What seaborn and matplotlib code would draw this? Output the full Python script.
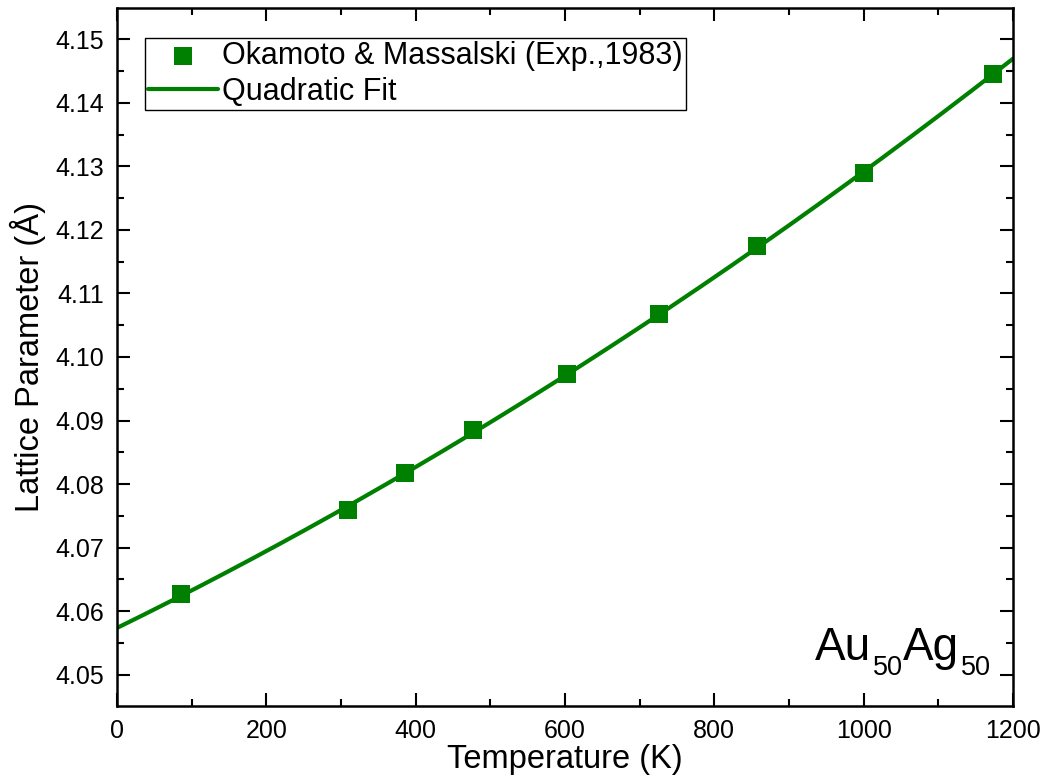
import numpy as np
import pandas as pd
import matplotlib
matplotlib.use("Agg")
import matplotlib.pyplot as plt
from matplotlib.ticker import MultipleLocator, FormatStrFormatter
import seaborn as sns

# Data
temperature_K = [86, 310, 386, 477, 603, 726, 857, 1000, 1173]
lattice_A = [4.0627, 4.0759, 4.0817, 4.0885, 4.0973, 4.1067, 4.1174, 4.1289, 4.1445]
exp_label = "Okamoto & Massalski (Exp.,1983)"
fit_label = "Quadratic Fit"

sns.set_theme(style="ticks")
plt.rcParams['font.family'] = ['Liberation Sans', 'DejaVu Sans']
for k in ['text.color', 'axes.labelcolor', 'xtick.color', 'ytick.color', 'axes.edgecolor']:
    plt.rcParams[k] = 'black'

green = "#008000"

df = pd.DataFrame({"T": temperature_K, "a": lattice_A})
coef = np.polyfit(df["T"], df["a"], 2)
t_fit = np.linspace(0, 1200, 300)
fit_df = pd.DataFrame({"T": t_fit, "a": np.polyval(coef, t_fit)})

fig = plt.figure(figsize=(10.49, 7.82), dpi=100)
ax = fig.add_axes([117/1049, 1-706/782, (1013-117)/1049, (706-8)/782])

sns.lineplot(data=fit_df, x="T", y="a", ax=ax, color=green, linewidth=3.0,
             label=fit_label, zorder=2)
sns.scatterplot(data=df, x="T", y="a", ax=ax, color=green, marker="s", s=13**2,
                edgecolor=green, linewidth=0, label=exp_label, zorder=3)

ax.set_xlim(0, 1200)
ax.set_ylim(4.0451, 4.1549)
ax.xaxis.set_major_locator(MultipleLocator(200))
ax.xaxis.set_minor_locator(MultipleLocator(100))
ax.yaxis.set_major_locator(MultipleLocator(0.01))
ax.yaxis.set_minor_locator(MultipleLocator(0.005))
ax.yaxis.set_major_formatter(FormatStrFormatter("%.2f"))

ax.tick_params(which="both", direction="in", top=True, right=True, width=1.5,
               colors="black", labelsize=18)
ax.tick_params(which="major", length=9.4, pad=9)
ax.tick_params(which="minor", length=5)
for sp in ax.spines.values():
    sp.set_linewidth(1.8)
    sp.set_color("black")

ax.set_xlabel("Temperature (K)", fontsize=23.5, labelpad=1)
ax.set_ylabel("Lattice Parameter (Å)", fontsize=23.5, labelpad=7)

handles, labels = ax.get_legend_handles_labels()
order = [labels.index(exp_label), labels.index(fit_label)]
leg = ax.legend([handles[i] for i in order], [labels[i] for i in order],
                loc="upper left", bbox_to_anchor=(145/1049, 1-38/782),
                bbox_transform=fig.transFigure, fontsize=22, frameon=True,
                fancybox=False, edgecolor="black", framealpha=1,
                handlelength=2.3, handletextpad=0.12, borderpad=0.1,
                labelspacing=0.18, borderaxespad=0)
leg.get_frame().set_linewidth(1.0)

# Composition label Au50Ag50 with real subscripts
base_y = 0.066
t1 = ax.text(0.779, base_y, "Au", transform=ax.transAxes, ha="left",
             va="baseline", fontsize=33)
t2 = ax.annotate("50", xy=(1, base_y), xycoords=(t1, ax.transAxes),
                 xytext=(1, -10.8), textcoords="offset points",
                 ha="left", va="baseline", fontsize=19.5)
t3 = ax.annotate("Ag", xy=(1, base_y), xycoords=(t2, ax.transAxes),
                 xytext=(0.5, 0), textcoords="offset points",
                 ha="left", va="baseline", fontsize=33)
t4 = ax.annotate("50", xy=(1, base_y), xycoords=(t3, ax.transAxes),
                 xytext=(1, -10.8), textcoords="offset points",
                 ha="left", va="baseline", fontsize=19.5)

fig.savefig("out.png", dpi=100)
